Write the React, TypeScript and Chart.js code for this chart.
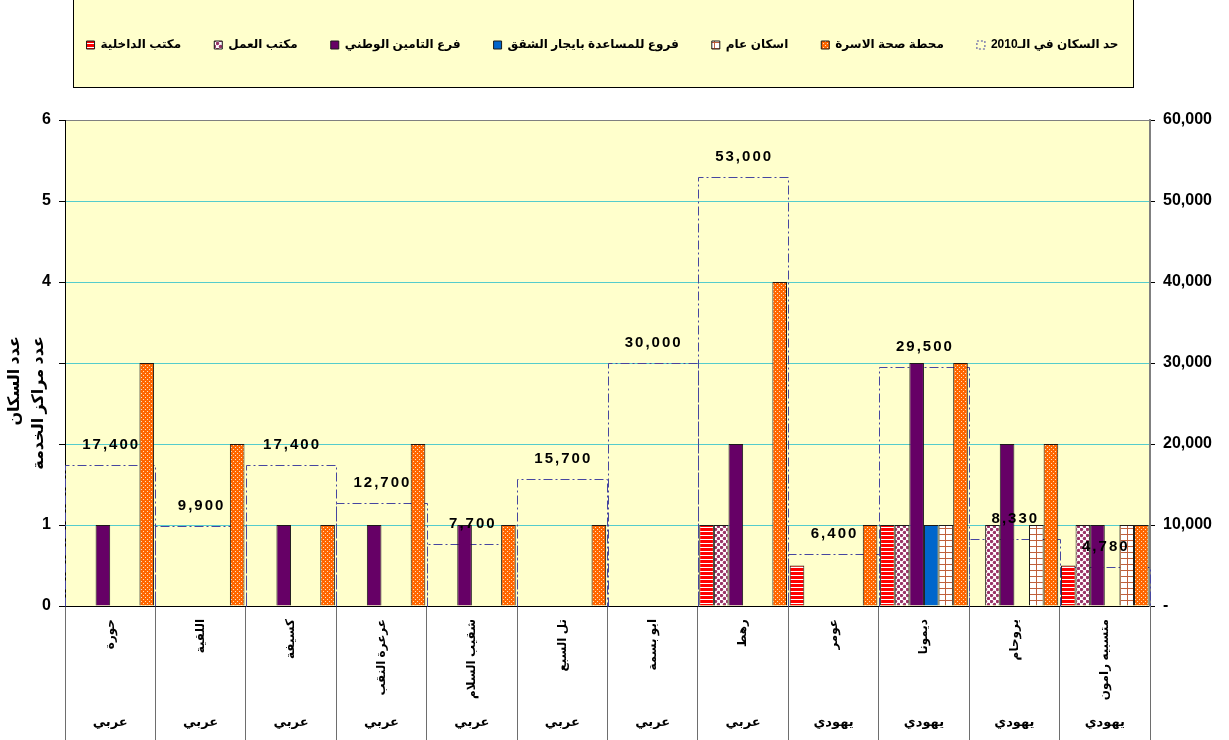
import React, { useEffect, useRef } from "react";
import { Chart, registerables } from "chart.js";

Chart.register(...registerables);

// ---------- data ----------
const towns = [
  "حورة",
  "اللقية",
  "كسيفة",
  "عرعرة النقب",
  "شقيب السلام",
  "تل السبع",
  "ابو بسمة",
  "رهط",
  "عومر",
  "ديمونا",
  "يروحام",
  "متسبيه رامون",
];
const sectors = ["عربي", "عربي", "عربي", "عربي", "عربي", "عربي", "عربي", "عربي", "يهودي", "يهودي", "يهودي", "يهودي"];

const interiorOffice = [null, null, null, null, null, null, null, 1, 0.5, 1, null, 0.5];
const labourOffice = [null, null, null, null, null, null, null, 1, null, 1, 1, 1];
const nationalInsurance = [1, null, 1, 1, 1, null, null, 2, null, 3, 2, 1];
const rentAssistance = [null, null, null, null, null, null, null, null, null, 1, null, null];
const publicHousing = [null, null, null, null, null, null, null, null, null, 1, 1, 1];
const familyHealth = [3, 2, 1, 2, 1, 1, null, 4, 1, 3, 2, 1];
const population2010 = [17400, 9900, 17400, 12700, 7700, 15700, 30000, 53000, 6400, 29500, 8330, 4780];

const seriesNames = [
  "مكتب الداخلية",
  "مكتب العمل",
  "فرع التامين الوطني",
  "فروع للمساعدة بايجار الشقق",
  "اسكان عام",
  "محطة صحة الاسرة",
  "حد السكان في الـ2010",
];
const axisTitleLines = ["عدد السكان", "عدد مراكز الخدمة"];
const leftAxisMax = 6;
const rightAxisMax = 60000;

// ---------- helpers ----------
function makePattern(w: number, h: number, draw: (g: CanvasRenderingContext2D) => void) {
  const c = document.createElement("canvas");
  c.width = w;
  c.height = h;
  const g = c.getContext("2d")!;
  draw(g);
  return g.createPattern(c, "repeat")!;
}

const FONT = '"Liberation Sans", Arial, "DejaVu Sans", sans-serif';
const POP_COLOR = "#4646a0";

export default function App() {
  const canvasRef = useRef<HTMLCanvasElement | null>(null);

  useEffect(() => {
    const canvas = canvasRef.current!;
    Chart.defaults.font.family = FONT;

    const redStripes = makePattern(4, 4, (g) => {
      g.fillStyle = "#ffffff";
      g.fillRect(0, 0, 4, 4);
      g.fillStyle = "#ff0000";
      g.fillRect(0, 0, 4, 3);
    });
    const pinkSpheres = makePattern(6, 6, (g) => {
      g.fillStyle = "#ffffff";
      g.fillRect(0, 0, 6, 6);
      g.fillStyle = "#993366";
      g.beginPath();
      g.arc(1.5, 1.5, 1.7, 0, Math.PI * 2);
      g.fill();
      g.beginPath();
      g.arc(4.5, 4.5, 1.7, 0, Math.PI * 2);
      g.fill();
    });
    const orangeDots = makePattern(4, 4, (g) => {
      g.fillStyle = "#ff6600";
      g.fillRect(0, 0, 4, 4);
      g.fillStyle = "#ffe0c0";
      g.fillRect(1, 1, 1, 1);
      g.fillRect(3, 3, 1, 1);
    });
    const brownGrid = makePattern(7, 6, (g) => {
      g.fillStyle = "#ffffff";
      g.fillRect(0, 0, 7, 6);
      g.fillStyle = "#c0603c";
      g.fillRect(0, 0, 1, 6);
      g.fillRect(0, 0, 7, 1);
    });

    const barBase = {
      type: "bar" as const,
      yAxisID: "y",
      borderColor: "#1a1a1a",
      borderWidth: 1,
      categoryPercentage: 0.97,
      barPercentage: 1,
    };

    const popIndex = 6;

    const bgPlugin = {
      id: "bgPlugin",
      beforeLayout(chart: any) {
        const lg: any = chart.legend;
        if (lg && !lg._patched) {
          const orig = lg.fit;
          lg.fit = function () {
            orig.call(this);
            this.height = 120;
          };
          lg._patched = true;
        }
      },
      afterLayout(chart: any) {
        const lg: any = chart.legend;
        if (lg) {
          lg.left -= 12;
          lg.right -= 12;
          lg.top += 6;
        }
      },
      beforeDraw(chart: any) {
        const { ctx, chartArea } = chart;
        ctx.save();
        ctx.fillStyle = "#ffffff";
        ctx.fillRect(0, 0, chart.width, chart.height);
        // legend frame
        ctx.fillStyle = "#ffffcc";
        ctx.fillRect(73, 0, 1060, 88);
        ctx.strokeStyle = "#000000";
        ctx.lineWidth = 1;
        ctx.strokeRect(73.5, -0.5, 1060, 88);
        // plot area
        ctx.fillStyle = "#ffffcc";
        ctx.fillRect(chartArea.left, chartArea.top, chartArea.right - chartArea.left, chartArea.bottom - chartArea.top);
        ctx.restore();
      },
      beforeDatasetsDraw(chart: any) {
        const { ctx } = chart;
        const meta = chart.getDatasetMeta(popIndex);
        ctx.save();
        ctx.strokeStyle = POP_COLOR;
        ctx.lineWidth = 1;
        ctx.setLineDash([9, 3, 2, 3]);
        meta.data.forEach((el: any) => {
          const p = el.getProps(["x", "y", "base", "width"], true);
          const l = Math.round(p.x - p.width / 2) + 0.5;
          const r = Math.round(p.x + p.width / 2) + 0.5;
          const t = Math.round(p.y) + 0.5;
          const b = Math.round(p.base) + 0.5;
          ctx.beginPath();
          ctx.moveTo(l, b);
          ctx.lineTo(l, t);
          ctx.lineTo(r, t);
          ctx.lineTo(r, b);
          ctx.stroke();
        });
        ctx.restore();
      },
      afterDatasetsDraw(chart: any) {
        const { ctx } = chart;
        const meta = chart.getDatasetMeta(popIndex);
        ctx.save();
        ctx.fillStyle = "#000000";
        ctx.font = `bold 15px ${FONT}`;
        (ctx as any).letterSpacing = "2px";
        ctx.textAlign = "center";
        ctx.textBaseline = "middle";
        meta.data.forEach((el: any, i: number) => {
          const p = el.getProps(["x", "y"], true);
          ctx.fillText(population2010[i].toLocaleString("en-US"), p.x + 1, p.y - 20);
        });
        ctx.restore();
      },
      afterDraw(chart: any) {
        const { ctx } = chart;
        const xs = chart.scales.x;
        ctx.save();
        ctx.fillStyle = "#000000";
        // category labels
        towns.forEach((name, i) => {
          const x = xs.getPixelForValue(i);
          ctx.save();
          ctx.translate(x, 619);
          ctx.rotate(-Math.PI / 2);
          ctx.font = `bold 12px ${FONT}`;
          ctx.textAlign = "right";
          ctx.textBaseline = "middle";
          ctx.fillText(name, 0, 0);
          ctx.restore();
          ctx.font = `bold 13px ${FONT}`;
          ctx.textAlign = "center";
          ctx.textBaseline = "middle";
          ctx.fillText(sectors[i], x, 722);
        });
        // y axis title (covers part of tick labels as in source)
        ctx.fillStyle = "#ffffff";
        ctx.fillRect(2, 328, 54, 132);
        ctx.fillStyle = "#000000";
        ctx.font = `bold 16px ${FONT}`;
        ctx.textAlign = "right";
        ctx.textBaseline = "middle";
        axisTitleLines.forEach((line, j) => {
          ctx.save();
          ctx.translate(15 + j * 24, 336);
          ctx.rotate(-Math.PI / 2);
          ctx.fillText(line, 0, 0);
          ctx.restore();
        });
        ctx.restore();
      },
    };

    const chart = new Chart(canvas, {
      type: "bar",
      data: {
        labels: towns,
        datasets: [
          { ...barBase, label: seriesNames[0], data: interiorOffice, backgroundColor: redStripes },
          { ...barBase, label: seriesNames[1], data: labourOffice, backgroundColor: pinkSpheres },
          { ...barBase, label: seriesNames[2], data: nationalInsurance, backgroundColor: "#660066" },
          { ...barBase, label: seriesNames[3], data: rentAssistance, backgroundColor: "#0066cc" },
          { ...barBase, label: seriesNames[4], data: publicHousing, backgroundColor: brownGrid },
          { ...barBase, label: seriesNames[5], data: familyHealth, backgroundColor: orangeDots },
          {
            type: "bar",
            label: seriesNames[6],
            data: population2010,
            yAxisID: "y2",
            grouped: false,
            categoryPercentage: 1,
            barPercentage: 1,
            backgroundColor: "rgba(0,0,0,0)",
            borderWidth: 0,
          } as any,
        ],
      },
      options: {
        responsive: false,
        animation: false,
        events: [],
        layout: { padding: 0 },
        plugins: {
          tooltip: { enabled: false },
          legend: {
            display: true,
            position: "top",
            labels: {
              boxWidth: 8,
              boxHeight: 8,
              padding: 33,
              color: "#000000",
              font: { size: 12, weight: "bold", family: FONT },
              generateLabels(chart: any) {
                const items = Chart.defaults.plugins.legend.labels.generateLabels(chart);
                items.forEach((it: any) => {
                  if (it.datasetIndex === popIndex) {
                    it.fillStyle = "rgba(0,0,0,0)";
                    it.strokeStyle = POP_COLOR;
                    it.lineDash = [2, 2];
                    it.lineWidth = 1;
                  } else {
                    it.lineWidth = 1;
                    it.strokeStyle = "#1a1a1a";
                  }
                });
                return items;
              },
            },
          },
        },
        scales: {
          x: {
            type: "category",
            offset: true,
            grid: {
              offset: true,
              drawOnChartArea: false,
              drawTicks: true,
              tickLength: 134,
              color: "#6e6e6e",
              tickColor: "#6e6e6e",
            },
            border: { color: "#000000", width: 1 },
            ticks: { display: false },
            afterFit(s: any) {
              s.height = 134;
            },
          },
          y: {
            position: "left",
            min: 0,
            max: leftAxisMax,
            ticks: {
              stepSize: 1,
              color: "#000000",
              padding: 8,
              font: { size: 16, weight: "bold", family: FONT },
            },
            grid: {
              color: (c: any) =>
                c.tick && c.tick.value === leftAxisMax ? "#808080" : c.tick && c.tick.value === 0 ? "#000000" : "#55cccc",
              tickColor: "#000000",
              tickLength: 6,
              lineWidth: 1,
            },
            border: { color: "#000000", width: 1 },
            afterFit(s: any) {
              s.width = 65;
            },
          },
          y2: {
            position: "right",
            min: 0,
            max: rightAxisMax,
            ticks: {
              stepSize: 10000,
              color: "#000000",
              padding: 8,
              font: { size: 16, weight: "bold", family: FONT },
              callback: (v: any) => (Number(v) === 0 ? "-" : Number(v).toLocaleString("en-US")),
            },
            grid: {
              drawOnChartArea: false,
              tickColor: "#000000",
              tickLength: 5,
            },
            border: { color: "#808080", width: 2 },
            afterFit(s: any) {
              s.width = 79;
            },
          },
        },
      },
      plugins: [bgPlugin],
    } as any);

    return () => chart.destroy();
  }, []);

  return (
    <div style={{ position: "absolute", left: 0, top: 0, width: 1229, height: 740, background: "#ffffff" }}>
      <canvas ref={canvasRef} width={1229} height={740} style={{ display: "block" }} />
    </div>
  );
}
